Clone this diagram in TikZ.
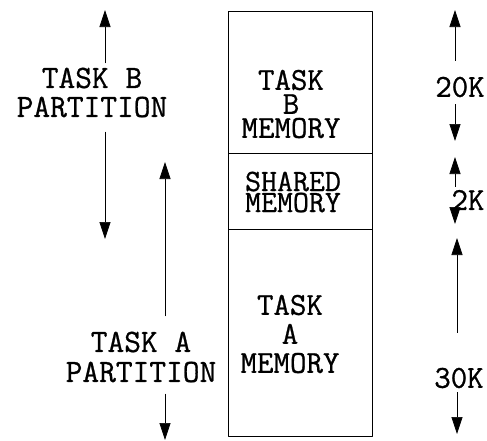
\documentclass[tikz,border=0pt]{standalone}
\usepackage{fontspec}
\setmonofont{Latin Modern Mono}[FakeBold=0.8]
\usetikzlibrary{arrows.meta}
\begin{document}
\begin{tikzpicture}[x=1pt, y=-1pt, line join=round, >={Triangle[length=17pt,width=11pt]}]
	\tikzset{
		memcell/.style={draw, line width=1pt, minimum width=144pt, inner sep=0pt},
		tw/.style={align=center, inner sep=0pt},
		dim/.style={->, line width=0.7pt}
	}
	\useasboundingbox (0,0) rectangle (487,440);
	% memory column
	\node[memcell, minimum height=142pt] (bmem) at (300,82) {};
	\node[memcell, minimum height=76pt] (shmem) at (300,191) {};
	\node[memcell, minimum height=207pt] (amem) at (300,332.5) {};
	\node[tw, font=\fontsize{32}{24}\selectfont\ttfamily] (btext) at (291,104) {TASK\\B\\MEMORY};
	\node[tw, font=\fontsize{31}{21}\selectfont\ttfamily] (shtext) at (293,192) {SHARED\\MEMORY};
	\node[tw, font=\fontsize{32}{29}\selectfont\ttfamily] (atext) at (290,334) {TASK\\A\\MEMORY};
	% partitions
	\node[tw, font=\fontsize{32.5}{29}\selectfont\ttfamily] (blab) at (92,92.5) {TASK B\\PARTITION};
	\node[tw, font=\fontsize{32.5}{30}\selectfont\ttfamily] (alab) at (141,357) {TASK A\\PARTITION};
	\coordinate (btop) at (105,10);
	\coordinate (bbot) at (105,239);
	\coordinate (atop) at (165,162);
	\coordinate (abot) at (165,440);
	\draw[dim] ([yshift=4pt]blab.north -| btop) -- (btop);
	\draw[dim] ([yshift=-14pt]blab.south -| bbot) -- (bbot);
	\draw[dim] ([yshift=15pt]alab.north -| atop) -- (atop);
	\draw[dim] ([yshift=-11pt]alab.south -| abot) -- (abot);
	% sizes
	\node[tw, font=\fontsize{32}{29}\selectfont\ttfamily] (k20) at (460,87) {20K};
	\node[tw, font=\fontsize{32}{29}\selectfont\ttfamily] (k2) at (468,200) {2K};
	\node[tw, font=\fontsize{32}{29}\selectfont\ttfamily] (k30) at (459,378) {30K};
	\coordinate (k20top) at (455,10);
	\coordinate (k20bot) at (455,141);
	\coordinate (k2top) at (455,157);
	\coordinate (k2bot) at (455,224);
	\coordinate (k30top) at (457,238);
	\coordinate (k30bot) at (457,434);
	\draw[dim] ([yshift=16pt]k20.north -| k20top) -- (k20top);
	\draw[dim] ([yshift=-7pt]k20.south -| k20bot) -- (k20bot);
	\draw[dim] ([yshift=3pt]k2.north -| k2top) -- (k2top);
	\draw[dim] ([yshift=-2pt]k2.south -| k2bot) -- (k2bot);
	\draw[dim] ([yshift=35pt]k30.north -| k30top) -- (k30top);
	\draw[dim] ([yshift=-4pt]k30.south -| k30bot) -- (k30bot);
\end{tikzpicture}
\end{document}
